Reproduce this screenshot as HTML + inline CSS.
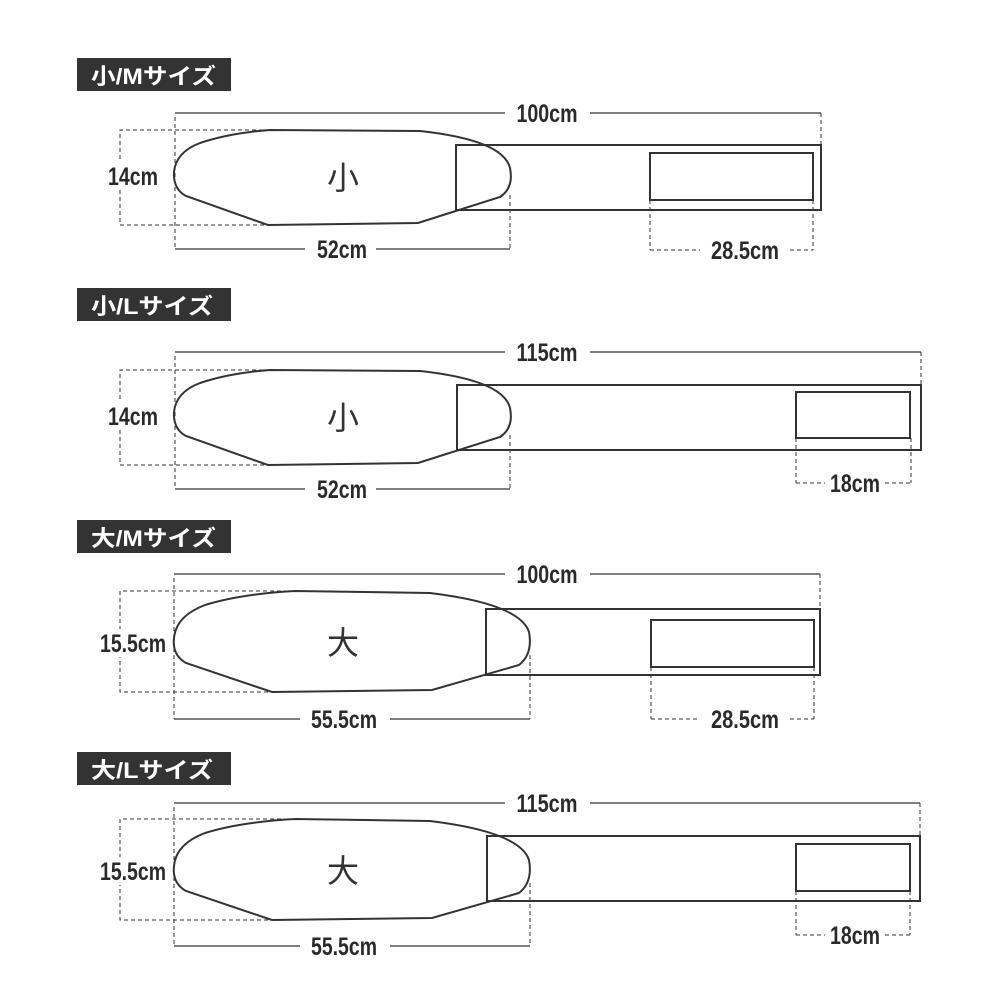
<!DOCTYPE html>
<html><head><meta charset="utf-8"><style>
html,body{margin:0;padding:0;background:#fff;}
svg{display:block;}
.t{font-family:"Liberation Sans","Noto Sans CJK JP",sans-serif;font-weight:bold;}
.d{font-family:"Liberation Sans",sans-serif;font-weight:bold;fill:#2a2a2a;font-size:25px;}
.s{fill:none;stroke:#333;stroke-width:2;}
.l{fill:none;stroke:#333;stroke-width:1.2;}
.k{fill:none;stroke:#333;stroke-width:1;stroke-dasharray:4,3;}
.c{font-family:"Noto Sans CJK JP",sans-serif;font-size:32px;fill:#333;font-weight:400;}
</style></head><body>
<svg width="1000" height="1000" viewBox="0 0 1000 1000" xmlns="http://www.w3.org/2000/svg">
<rect width="1000" height="1000" fill="#fff"/>

<!-- Section 1: 小/M -->
<rect x="77" y="58" width="154" height="33" fill="#333"/>
<text x="91" y="84" class="t" font-size="22" fill="#fff" textLength="125" lengthAdjust="spacingAndGlyphs">小/Mサイズ</text>
<line x1="175" y1="113" x2="505" y2="113" class="l"/>
<line x1="590" y1="113" x2="821" y2="113" class="l"/>
<text x="547" y="122" class="d" text-anchor="middle" textLength="61" lengthAdjust="spacingAndGlyphs">100cm</text>
<line x1="175" y1="117" x2="175" y2="249" class="k"/>
<line x1="821" y1="113" x2="821" y2="145" class="k"/>
<path d="M270,130 H120 V225 H268" class="k"/>
<rect x="104" y="162" width="58" height="28" fill="#fff"/>
<text x="133" y="185" class="d" text-anchor="middle" textLength="50" lengthAdjust="spacingAndGlyphs">14cm</text>
<rect x="456" y="145" width="365" height="65" class="s"/>
<rect x="650" y="153" width="163" height="47" class="s"/>
<path d="M270,130 L420,131 Q503,140 510,168 Q514,188 500,197 L418,223 L268,225 L186,196 Q173,189 174,172 Q176,152 200,143 Q230,133 270,130 Z" class="s"/>
<text x="343" y="189" class="c" text-anchor="middle">小</text>
<line x1="175" y1="249" x2="305" y2="249" class="l"/>
<line x1="376" y1="249" x2="510" y2="249" class="l"/>
<text x="342" y="258" class="d" text-anchor="middle" textLength="50" lengthAdjust="spacingAndGlyphs">52cm</text>
<line x1="510" y1="195" x2="510" y2="249" class="k"/>
<line x1="650" y1="200" x2="650" y2="250" class="k"/>
<line x1="650" y1="250" x2="700" y2="250" class="k"/>
<line x1="790" y1="250" x2="813" y2="250" class="k"/>
<line x1="813" y1="200" x2="813" y2="250" class="k"/>
<text x="745" y="259" class="d" text-anchor="middle" textLength="68" lengthAdjust="spacingAndGlyphs">28.5cm</text>

<!-- Section 2: 小/L -->
<rect x="77" y="288" width="154" height="33" fill="#333"/>
<text x="91" y="314" class="t" font-size="22" fill="#fff" textLength="122" lengthAdjust="spacingAndGlyphs">小/Lサイズ</text>
<g transform="translate(0,240)">
<line x1="175" y1="112" x2="505" y2="112" class="l"/>
<line x1="590" y1="112" x2="921" y2="112" class="l"/>
<text x="547" y="121" class="d" text-anchor="middle" textLength="61" lengthAdjust="spacingAndGlyphs">115cm</text>
<line x1="175" y1="116" x2="175" y2="249" class="k"/>
<line x1="921" y1="112" x2="921" y2="145" class="k"/>
<path d="M270,130 H120 V225 H268" class="k"/>
<rect x="104" y="162" width="58" height="28" fill="#fff"/>
<text x="133" y="185" class="d" text-anchor="middle" textLength="50" lengthAdjust="spacingAndGlyphs">14cm</text>
<rect x="457" y="145" width="464" height="65" class="s"/>
<rect x="796" y="152" width="114" height="46" class="s"/>
<path d="M270,130 L420,131 Q503,140 510,168 Q514,188 500,197 L418,223 L268,225 L186,196 Q173,189 174,172 Q176,152 200,143 Q230,133 270,130 Z" class="s"/>
<text x="343" y="189" class="c" text-anchor="middle">小</text>
<line x1="175" y1="249" x2="305" y2="249" class="l"/>
<line x1="376" y1="249" x2="510" y2="249" class="l"/>
<text x="342" y="258" class="d" text-anchor="middle" textLength="50" lengthAdjust="spacingAndGlyphs">52cm</text>
<line x1="510" y1="195" x2="510" y2="249" class="k"/>
<line x1="796" y1="198" x2="796" y2="243" class="k"/>
<line x1="911" y1="198" x2="911" y2="243" class="k"/>
<line x1="796" y1="243" x2="825" y2="243" class="k"/>
<line x1="885" y1="243" x2="911" y2="243" class="k"/>
<text x="855" y="252" class="d" text-anchor="middle" textLength="50" lengthAdjust="spacingAndGlyphs">18cm</text>
</g>

<!-- Section 3: 大/M -->
<rect x="77" y="520" width="154" height="33" fill="#333"/>
<text x="91" y="546" class="t" font-size="22" fill="#fff" textLength="125" lengthAdjust="spacingAndGlyphs">大/Mサイズ</text>
<line x1="174" y1="574" x2="505" y2="574" class="l"/>
<line x1="590" y1="574" x2="820" y2="574" class="l"/>
<text x="547" y="583" class="d" text-anchor="middle" textLength="61" lengthAdjust="spacingAndGlyphs">100cm</text>
<line x1="174" y1="578" x2="174" y2="719" class="k"/>
<line x1="820" y1="574" x2="820" y2="609" class="k"/>
<path d="M295,591 H120 V692 H272" class="k"/>
<rect x="98" y="629" width="70" height="28" fill="#fff"/>
<text x="133" y="652" class="d" text-anchor="middle" textLength="66" lengthAdjust="spacingAndGlyphs">15.5cm</text>
<rect x="486" y="609" width="334" height="66" class="s"/>
<rect x="651" y="620" width="163" height="47" class="s"/>
<path d="M295,591 L430,593 Q520,604 529,632 Q533,654 519,665 L432,690 L272,692 L186,663 Q172,655 174,638 Q176,616 205,605 Q240,594 295,591 Z" class="s"/>
<text x="343" y="654" class="c" text-anchor="middle">大</text>
<line x1="174" y1="719" x2="300" y2="719" class="l"/>
<line x1="390" y1="719" x2="530" y2="719" class="l"/>
<text x="344" y="728" class="d" text-anchor="middle" textLength="66" lengthAdjust="spacingAndGlyphs">55.5cm</text>
<line x1="530" y1="655" x2="530" y2="719" class="k"/>
<line x1="651" y1="667" x2="651" y2="719" class="k"/>
<line x1="814" y1="667" x2="814" y2="719" class="k"/>
<line x1="651" y1="719" x2="700" y2="719" class="k"/>
<line x1="790" y1="719" x2="814" y2="719" class="k"/>
<text x="745" y="728" class="d" text-anchor="middle" textLength="68" lengthAdjust="spacingAndGlyphs">28.5cm</text>

<!-- Section 4: 大/L -->
<rect x="77" y="752" width="154" height="33" fill="#333"/>
<text x="91" y="778" class="t" font-size="22" fill="#fff" textLength="122" lengthAdjust="spacingAndGlyphs">大/Lサイズ</text>
<g transform="translate(0,228)">
<line x1="174" y1="575" x2="505" y2="575" class="l"/>
<line x1="590" y1="575" x2="920" y2="575" class="l"/>
<text x="547" y="584" class="d" text-anchor="middle" textLength="61" lengthAdjust="spacingAndGlyphs">115cm</text>
<line x1="174" y1="579" x2="174" y2="718" class="k"/>
<line x1="920" y1="575" x2="920" y2="608" class="k"/>
<path d="M295,591 H120 V692 H272" class="k"/>
<rect x="98" y="629" width="70" height="28" fill="#fff"/>
<text x="133" y="652" class="d" text-anchor="middle" textLength="66" lengthAdjust="spacingAndGlyphs">15.5cm</text>
<rect x="487" y="608" width="433" height="65" class="s"/>
<rect x="796" y="616" width="114" height="47" class="s"/>
<path d="M295,591 L430,593 Q520,604 529,632 Q533,654 519,665 L432,690 L272,692 L186,663 Q172,655 174,638 Q176,616 205,605 Q240,594 295,591 Z" class="s"/>
<text x="343" y="654" class="c" text-anchor="middle">大</text>
<line x1="174" y1="718" x2="300" y2="718" class="l"/>
<line x1="390" y1="718" x2="530" y2="718" class="l"/>
<text x="344" y="727" class="d" text-anchor="middle" textLength="66" lengthAdjust="spacingAndGlyphs">55.5cm</text>
<line x1="530" y1="655" x2="530" y2="718" class="k"/>
<line x1="796" y1="663" x2="796" y2="707" class="k"/>
<line x1="910" y1="663" x2="910" y2="707" class="k"/>
<line x1="796" y1="707" x2="825" y2="707" class="k"/>
<line x1="885" y1="707" x2="910" y2="707" class="k"/>
<text x="855" y="716" class="d" text-anchor="middle" textLength="50" lengthAdjust="spacingAndGlyphs">18cm</text>
</g>
</svg>
</body></html>
